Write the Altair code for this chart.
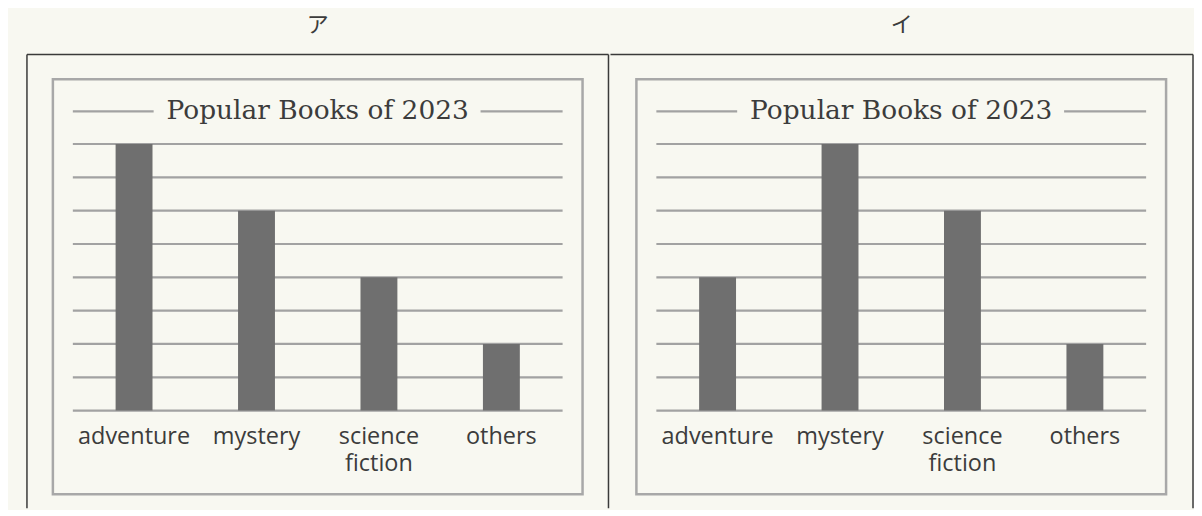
import altair as alt
import pandas as pd

# ---- data ----
categories = ["adventure", "mystery", "science fiction", "others"]
tick_labels = ["adventure", "mystery", "science\nfiction", "others"]
values_a = [8, 6, 4, 2]
values_b = [4, 8, 6, 2]
grid_values = [0, 1, 2, 3, 4, 5, 6, 7, 8]
chart_title = "Popular Books of 2023"
panel_labels = ["ア", "イ"]

# ---- layout / style constants ----
W_LEFT, W_RIGHT, H = 583, 584, 455
X_RANGE = [46, 537]
Y_RANGE = [357, 89.7]
BOX = (-0.163, 4.163, 9.94, -2.51)  # inner frame in scale units
TITLE_Y = 8.98
LABEL_Y = -0.99
TITLE_LINES = [(0.0, 0.66), (3.33, 4.0)]
BG = "#f8f8f1"
BAR_COLOR = "#6f6f6f"
GRID_COLOR = "#a2a2a2"
BOX_COLOR = "#a8a8a8"
TEXT_COLOR = "#3c3c3c"
FRAME_COLOR = "#3a3a3a"


def panel(values, label, width, right_edge, left_edge):
    xs = alt.Scale(domain=[0, 4], range=X_RANGE, nice=False, zero=False, padding=0)
    ys = alt.Scale(domain=[0, 8], range=Y_RANGE, nice=False, zero=False, padding=0)
    one = alt.Data(values=[{"k": 0}])

    df = pd.DataFrame({
        "pos": [i + 0.5 for i in range(len(categories))],
        "value": values,
        "label": tick_labels,
        "category": categories,
    })
    grid = pd.DataFrame({"g": grid_values})
    tl = pd.DataFrame({"a": [t[0] for t in TITLE_LINES], "b": [t[1] for t in TITLE_LINES]})

    box = alt.Chart(one).mark_rect(fillOpacity=0, stroke=BOX_COLOR, strokeWidth=2.5).encode(
        x=alt.X(datum=BOX[0], type="quantitative", scale=xs, axis=None),
        x2=alt.datum(BOX[1]),
        y=alt.Y(datum=BOX[2], type="quantitative", scale=ys, axis=None),
        y2=alt.datum(BOX[3]),
    )
    rules = alt.Chart(grid).mark_rule(color=GRID_COLOR, strokeWidth=2.2).encode(
        x=alt.X(datum=0, type="quantitative", scale=xs, axis=None),
        x2=alt.datum(4),
        y=alt.Y("g:Q", scale=ys, axis=None),
    )
    bars = alt.Chart(df).mark_bar(size=37, color=BAR_COLOR).encode(
        x=alt.X("pos:Q", scale=xs, axis=None),
        y=alt.Y("value:Q", scale=ys, axis=None),
        y2=alt.datum(0),
        tooltip=["category", "value"],
    )
    tlines = alt.Chart(tl).mark_rule(color=GRID_COLOR, strokeWidth=2.2).encode(
        x=alt.X("a:Q", scale=xs, axis=None),
        x2="b:Q",
        y=alt.Y(datum=TITLE_Y, type="quantitative", scale=ys, axis=None),
    )
    ttext = alt.Chart(one).mark_text(
        font="DejaVu Serif", fontSize=26.5, color=TEXT_COLOR, baseline="middle", align="center"
    ).encode(
        x=alt.X(datum=2, type="quantitative", scale=xs, axis=None),
        y=alt.Y(datum=TITLE_Y, type="quantitative", scale=ys, axis=None),
        text=alt.value(chart_title),
    )
    labels = alt.Chart(df).mark_text(
        font="Open Sans", fontSize=23.5, color=TEXT_COLOR, baseline="alphabetic",
        align="center", lineBreak="\n", lineHeight=27
    ).encode(
        x=alt.X("pos:Q", scale=xs, axis=None),
        y=alt.Y(datum=LABEL_Y, type="quantitative", scale=ys, axis=None),
        text="label:N",
    )
    layers = [box, rules, bars, tlines, ttext, labels]
    top = alt.Chart(one).mark_rule(color=FRAME_COLOR, strokeWidth=1.5).encode(
        x=alt.value(0), x2=alt.value(width), y=alt.value(0)
    )
    layers.append(top)
    if left_edge:
        layers.append(alt.Chart(one).mark_rule(color=FRAME_COLOR, strokeWidth=1.5).encode(
            x=alt.value(0), y=alt.value(0), y2=alt.value(H)))
    if right_edge:
        layers.append(alt.Chart(one).mark_rule(color=FRAME_COLOR, strokeWidth=1.5).encode(
            x=alt.value(width), y=alt.value(0), y2=alt.value(H)))

    return alt.layer(*layers).properties(
        width=width,
        height=H,
        title=alt.TitleParams(
            label, font="Noto Sans CJK JP", fontSize=22, fontWeight="normal",
            color=TEXT_COLOR, anchor="middle", offset=17,
        ),
    )


left = panel(values_a, panel_labels[0], W_LEFT, True, True)
right = panel(values_b, panel_labels[1], W_RIGHT, True, False)

chart = alt.hconcat(left, right, spacing=0).properties(
    padding={"left": 18, "top": 5, "right": 0, "bottom": 0},
    background=BG,
).configure_view(strokeWidth=0)

chart.save("out.html", embed_options={"renderer": "svg", "actions": False})
